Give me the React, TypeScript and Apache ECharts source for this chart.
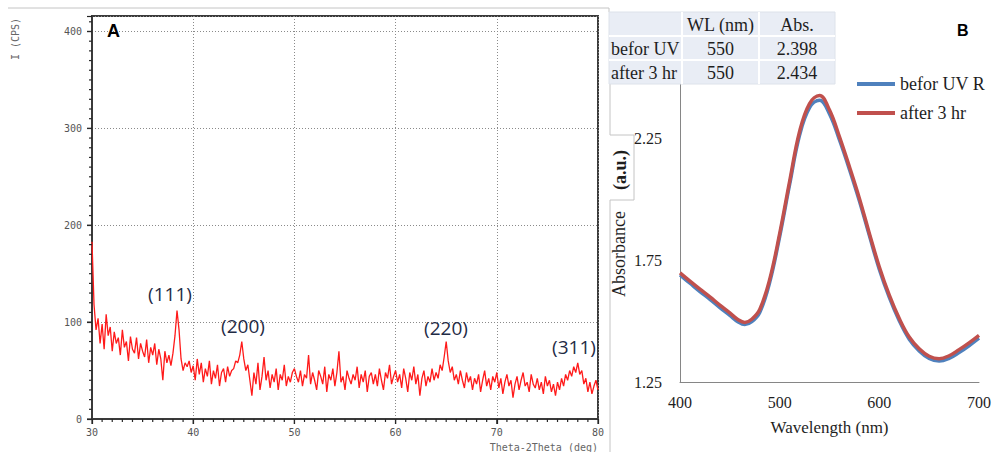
import React, { useEffect, useRef } from "react";
import * as echarts from "echarts";

// ---------- Panel A: XRD pattern ----------
const xrdStartAngle = 30;
const xrdAngleStep = 0.2;
const xrdIntensity: number[] = [
  183, 118, 92, 104, 78, 98, 72, 108, 86, 95,
  70, 90, 78, 84, 66, 92, 74, 80, 60, 85,
  72, 68, 84, 62, 78, 70, 64, 82, 58, 74,
  66, 78, 56, 72, 62, 40, 70, 58, 66, 55,
  68, 86, 112, 92, 62, 50, 58, 54, 60, 48,
  55, 40, 62, 46, 58, 38, 52, 44, 60, 36,
  50, 42, 56, 34, 48, 52, 38, 54, 44, 50,
  52, 60, 58, 66, 80, 62, 50, 56, 40, 24,
  48, 36, 58, 30, 44, 64, 40, 50, 32, 46,
  38, 52, 30, 46, 40, 56, 34, 44, 38, 48,
  52, 44, 38, 50, 34, 46, 42, 66, 36, 48,
  40, 30, 50, 44, 36, 54, 28, 46, 40, 52,
  34, 48, 70, 38, 44, 30, 50, 42, 36, 46,
  40, 54, 32, 46, 38, 50, 28, 44, 48, 36,
  46, 34, 52, 40, 30, 48, 42, 56, 36, 44,
  50, 38, 46, 32, 52, 42, 28, 48, 40, 54,
  36, 46, 24, 42, 50, 34, 44, 38, 52, 40,
  48, 42, 56, 50, 64, 80, 60, 48, 54, 40,
  46, 36, 50, 40, 32, 48, 38, 44, 30, 42,
  36, 46, 28, 40, 50, 34, 42, 30, 44, 38,
  48, 32, 42, 26, 38, 46, 34, 40, 22, 36,
  44, 30, 40, 48, 34, 38, 28, 46, 36, 32,
  42, 30, 38, 26, 44, 34, 40, 28, 36, 24,
  38, 30, 42, 34, 46, 40, 50, 44, 54, 48,
  58, 46, 50, 36, 42, 28, 38, 26, 34, 40,
  30,
];
const xrdAxisX = { min: 30, max: 80, major: 10, minor: 1 };
const xrdAxisY = { min: 0, max: 416, major: 100, minor: 10 };
const peakLabels = ["(111)", "(200)", "(220)", "(311)"];

// ---------- Panel B: UV-Vis ----------
const wavelengths = [400, 410, 420, 430, 440, 450, 458, 465, 472, 480, 490, 500, 510, 520, 530, 540, 550, 560, 570, 580, 590, 600, 610, 620, 630, 640, 650, 660, 670, 680, 690, 700];
const absBefore = [1.690, 1.656, 1.622, 1.590, 1.556, 1.524, 1.498, 1.486, 1.498, 1.536, 1.660, 1.848, 2.062, 2.265, 2.378, 2.408, 2.352, 2.245, 2.124, 1.994, 1.852, 1.713, 1.598, 1.502, 1.426, 1.378, 1.347, 1.336, 1.347, 1.371, 1.399, 1.430];
const absAfter = [1.699, 1.665, 1.632, 1.600, 1.566, 1.534, 1.507, 1.495, 1.508, 1.548, 1.672, 1.860, 2.075, 2.280, 2.395, 2.428, 2.368, 2.258, 2.135, 2.005, 1.861, 1.723, 1.607, 1.511, 1.435, 1.387, 1.356, 1.346, 1.358, 1.383, 1.411, 1.442];
const seriesNames = ["befor UV R", "after 3 hr"];
const uvTicksY = [1.25, 1.75, 2.25];
const tableHeader = ["", "WL (nm)", "Abs."];
const tableRows = [
  ["befor UV", "550", "2.398"],
  ["after 3 hr", "550", "2.434"],
];

const SERIF = "'Liberation Serif', 'Times New Roman', serif";
const MONO = "'DejaVu Sans Mono', monospace";

export default function App() {
  const ref = useRef<HTMLDivElement>(null);

  useEffect(() => {
    if (!ref.current) return;
    const chart = echarts.init(ref.current, undefined, { renderer: "svg" });

    const xrdData = xrdIntensity.map((v, i) => [
      Math.round((xrdStartAngle + i * xrdAngleStep) * 10) / 10,
      v,
    ]);
    const uvBefore = wavelengths.map((w, i) => [w, absBefore[i]]);
    const uvAfter = wavelengths.map((w, i) => [w, absAfter[i]]);

    const lineGrey = "#c4c4c4";
    const graphic: any[] = [];
    const segs = [
      [8, 8, 609, 8],
      [609, 8, 609, 12],
      [610, 84, 610, 135],
      [610, 135, 634, 135],
      [634, 135, 634, 200],
      [610, 200, 634, 200],
      [610, 200, 610, 452],
    ];
    segs.forEach((s) =>
      graphic.push({
        type: "line",
        shape: { x1: s[0], y1: s[1], x2: s[2], y2: s[3] },
        style: { stroke: lineGrey, lineWidth: 1 },
        silent: true,
      })
    );

    // Table
    const colX = [609, 682, 759, 835];
    const rowY = [12, 36, 60, 84];
    graphic.push({
      type: "rect",
      shape: { x: colX[0], y: rowY[0], width: colX[3] - colX[0], height: rowY[3] - rowY[0] },
      style: { fill: "#e9edf5", stroke: "#dde2ea", lineWidth: 1 },
      z: 50,
    });
    [colX[1], colX[2]].forEach((x) =>
      graphic.push({
        type: "line",
        shape: { x1: x, y1: rowY[0], x2: x, y2: rowY[3] },
        style: { stroke: "#ffffff", lineWidth: 2 },
        z: 51,
      })
    );
    [rowY[1], rowY[2]].forEach((y) =>
      graphic.push({
        type: "line",
        shape: { x1: colX[0], y1: y, x2: colX[3], y2: y },
        style: { stroke: "#ffffff", lineWidth: 2 },
        z: 51,
      })
    );
    const allRows = [tableHeader, ...tableRows];
    allRows.forEach((row, r) => {
      row.forEach((txt, c) => {
        if (!txt) return;
        const cy = (rowY[r] + rowY[r + 1]) / 2 + 1;
        graphic.push({
          type: "text",
          x: c === 0 ? colX[0] + 2 : (colX[c] + colX[c + 1]) / 2,
          y: cy,
          style: {
            text: txt,
            fill: "#1e1e1e",
            font: `18px ${SERIF}`,
            textAlign: c === 0 ? "left" : "center",
            textVerticalAlign: "middle",
          },
          z: 52,
        });
      });
    });

    graphic.push({
      type: "text",
      x: 107,
      y: 31,
      style: { text: "A", fill: "#000", font: "bold 18px 'Liberation Sans', Arial, sans-serif", textVerticalAlign: "middle" },
      z: 60,
    });
    graphic.push({
      type: "text",
      x: 957,
      y: 30,
      style: { text: "B", fill: "#000", font: "bold 16px 'Liberation Sans', Arial, sans-serif", textVerticalAlign: "middle" },
      z: 60,
    });

    graphic.push({
      type: "text",
      x: 15,
      y: 39,
      rotation: Math.PI / 2,
      style: { text: "I (CPS)", fill: "#666", font: `10px ${MONO}`, textAlign: "center", textVerticalAlign: "middle" },
    });
    graphic.push({
      type: "text",
      x: 598,
      y: 447,
      style: { text: "Theta-2Theta (deg)", fill: "#666", font: `10px ${MONO}`, textAlign: "right", textVerticalAlign: "middle" },
    });

    const peakPos = [
      [170, 294],
      [243, 326],
      [446, 328],
      [574, 347],
    ];
    peakLabels.forEach((t, i) =>
      graphic.push({
        type: "text",
        x: peakPos[i][0],
        y: peakPos[i][1],
        style: { text: t, fill: "#1f2b45", font: "19px 'Open Sans', sans-serif", textAlign: "center", textVerticalAlign: "middle" },
        z: 40,
      })
    );

    graphic.push({
      type: "text",
      x: 619,
      y: 254,
      rotation: Math.PI / 2,
      style: { text: "Absorbance", fill: "#1e1e1e", font: `18px ${SERIF}`, textAlign: "center", textVerticalAlign: "middle" },
    });
    graphic.push({
      type: "text",
      x: 620,
      y: 170,
      rotation: Math.PI / 2,
      style: { text: "(a.u.)", fill: "#1e1e1e", font: `bold 18px ${SERIF}`, textAlign: "center", textVerticalAlign: "middle" },
    });

    const option: any = {
      animation: false,
      backgroundColor: "#ffffff",
      grid: [
        { left: 92, top: 16, width: 506, height: 403, show: true, borderColor: "#3a3a3a", borderWidth: 2, backgroundColor: "transparent" },
        { left: 680, top: 78, width: 299, height: 304 },
      ],
      legend: {
        data: seriesNames,
        orient: "vertical",
        left: 852,
        top: 70,
        icon: "rect",
        itemWidth: 38,
        itemHeight: 4,
        itemGap: 11,
        textStyle: { color: "#1e1e1e", fontFamily: SERIF, fontSize: 18, lineHeight: 18 },
      },
      xAxis: [
        {
          gridIndex: 0,
          type: "value",
          position: "bottom",
          min: xrdAxisX.min,
          max: xrdAxisX.max,
          interval: xrdAxisX.major,
          axisLine: { show: true, onZero: false, lineStyle: { color: "#3a3a3a", width: 2 } },
          axisTick: { show: true, length: 5, lineStyle: { color: "#222", width: 1.2 } },
          axisLabel: { margin: 8, color: "#555", fontFamily: MONO, fontSize: 10 },
          splitLine: { show: true, lineStyle: { color: "#8a8a8a", type: [1, 2], width: 1 } },
        },
        {
          gridIndex: 1,
          type: "value",
          position: "bottom",
          min: 400,
          max: 700,
          interval: 100,
          axisLine: { show: true, onZero: false, lineStyle: { color: "#868686", width: 1 } },
          axisTick: { show: false },
          axisLabel: { margin: 12, color: "#1e1e1e", fontFamily: SERIF, fontSize: 16 },
          splitLine: { show: false },
          name: "Wavelength (nm)",
          nameLocation: "middle",
          nameGap: 37,
          nameTextStyle: { color: "#1e1e1e", fontFamily: SERIF, fontSize: 17 },
        },
      ],
      yAxis: [
        {
          gridIndex: 0,
          type: "value",
          position: "left",
          min: xrdAxisY.min,
          max: xrdAxisY.max,
          interval: xrdAxisY.major,
          axisLine: { show: true, onZero: false, lineStyle: { color: "#3a3a3a", width: 2 } },
          axisTick: { show: true, length: 5, lineStyle: { color: "#222", width: 1.2 } },
          axisLabel: {
            margin: 10,
            color: "#555",
            fontFamily: MONO,
            fontSize: 10,
            formatter: (v: number) => (v % xrdAxisY.major === 0 ? String(v) : ""),
          },
          splitLine: { show: true, lineStyle: { color: "#8a8a8a", type: [1, 2], width: 1 } },
        },
        {
          gridIndex: 1,
          type: "value",
          position: "left",
          min: 1.25,
          max: 2.5,
          interval: 0.25,
          axisLine: { show: true, onZero: false, lineStyle: { color: "#868686", width: 1 } },
          axisTick: { show: false },
          axisLabel: {
            margin: 18,
            color: "#1e1e1e",
            fontFamily: SERIF,
            fontSize: 16,
            formatter: (v: number) =>
              uvTicksY.some((t) => Math.abs(t - v) < 1e-6) ? v.toFixed(2) : "",
          },
          splitLine: { show: false },
        },
      ],
      series: [
        {
          name: "XRD",
          type: "line",
          xAxisIndex: 0,
          yAxisIndex: 0,
          data: xrdData,
          showSymbol: false,
          symbol: "none",
          lineStyle: { color: "#ff1a1a", width: 1.3 },
          z: 5,
        },
        {
          name: seriesNames[0],
          type: "line",
          xAxisIndex: 1,
          yAxisIndex: 1,
          data: uvBefore,
          smooth: 0.4,
          symbol: "none",
          color: "#4f81bd",
          lineStyle: { color: "#4f81bd", width: 3.5 },
          z: 5,
        },
        {
          name: seriesNames[1],
          type: "line",
          xAxisIndex: 1,
          yAxisIndex: 1,
          data: uvAfter,
          smooth: 0.4,
          symbol: "none",
          color: "#c0504d",
          lineStyle: { color: "#c0504d", width: 3.5 },
          z: 6,
        },
      ],
      graphic,
    };

    chart.setOption(option);

    // Tick marks of panel A, placed through the chart's own scales
    try {
      const tickEls: any[] = [];
      const finder = { xAxisIndex: 0, yAxisIndex: 0 };
      for (let x = xrdAxisX.min; x <= xrdAxisX.max; x += xrdAxisX.minor) {
        const p = chart.convertToPixel(finder as any, [x, xrdAxisY.min]) as number[];
        if (!p) continue;
        const len = x % xrdAxisX.major === 0 ? 5 : 3;
        tickEls.push({
          type: "line",
          shape: { x1: p[0], y1: p[1], x2: p[0], y2: p[1] + len },
          style: { stroke: "#2a2a2a", lineWidth: 1.2 },
          z: 30,
          silent: true,
        });
      }
      for (let y = xrdAxisY.min; y < xrdAxisY.max; y += xrdAxisY.minor) {
        const p = chart.convertToPixel(finder as any, [xrdAxisX.min, y]) as number[];
        if (!p) continue;
        const len = y % xrdAxisY.major === 0 ? 5 : 3;
        tickEls.push({
          type: "line",
          shape: { x1: p[0] - len, y1: p[1], x2: p[0], y2: p[1] },
          style: { stroke: "#2a2a2a", lineWidth: 1.2 },
          z: 30,
          silent: true,
        });
      }
      chart.setOption({ graphic: [...graphic, ...tickEls] });
    } catch (e) {
      // keep chart without extra ticks
    }

    return () => chart.dispose();
  }, []);

  return (
    <div
      ref={ref}
      style={{ position: "absolute", left: 0, top: 0, width: 994, height: 452, background: "#fff" }}
    />
  );
}
